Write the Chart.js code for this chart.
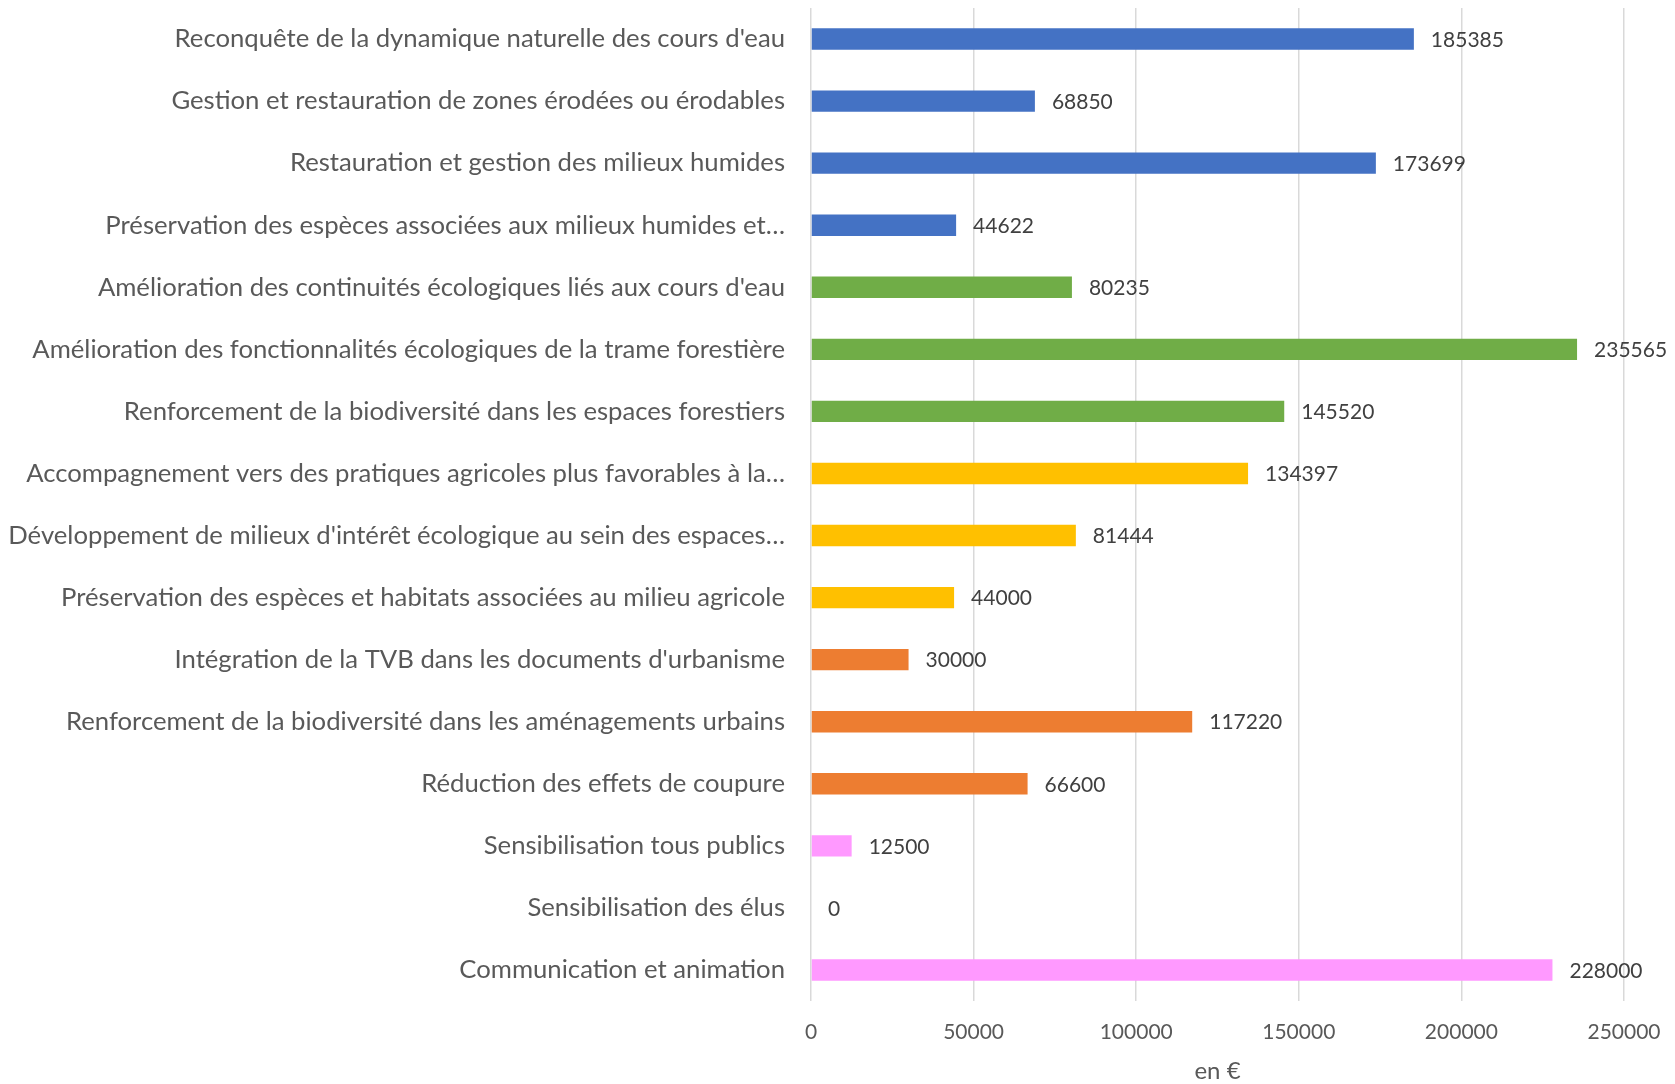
<!DOCTYPE html>
<html>
<head>
<meta charset="utf-8">
<script src="https://cdn.jsdelivr.net/npm/chart.js@4"></script>
<style>
    html, body { margin: 0; padding: 0; background: #fff; }
    #wrap { width: 1675px; height: 1084px; }
</style>
</head>
<body>
<div id="wrap"><canvas id="myChart" width="1675" height="1084"></canvas></div>
<script>
const categories = [
    "Reconquête de la dynamique naturelle des cours d'eau",
    "Gestion et restauration de zones érodées ou érodables",
    "Restauration et gestion des milieux humides",
    "Préservation des espèces associées aux milieux humides et…",
    "Amélioration des continuités écologiques liés aux cours d'eau",
    "Amélioration des fonctionnalités écologiques de la trame forestière",
    "Renforcement de la biodiversité dans les espaces forestiers",
    "Accompagnement vers des pratiques agricoles plus favorables à la…",
    "Développement de milieux d'intérêt écologique au sein des espaces…",
    "Préservation des espèces et habitats associées au milieu agricole",
    "Intégration de la TVB dans les documents d'urbanisme",
    "Renforcement de la biodiversité dans les aménagements urbains",
    "Réduction des effets de coupure",
    "Sensibilisation tous publics",
    "Sensibilisation des élus",
    "Communication et animation",
];
const values = [185385, 68850, 173699, 44622, 80235, 235565, 145520, 134397, 81444, 44000, 30000, 117220, 66600, 12500, 0, 228000];
// theme of each action (gives the bar colour)
const themes = ["eau", "eau", "eau", "eau", "foret", "foret", "foret", "agri", "agri", "agri", "urba", "urba", "urba", "com", "com", "com"];
const themeColors = { eau: "#4472C4", foret: "#70AD47", agri: "#FFC000", urba: "#ED7D31", com: "#FF99FF" };
const xTicks = [0, 50000, 100000, 150000, 200000, 250000];

const FONT = "Lato";

// valeurs écrites au bout des barres
const barValues = {
    id: "barValues",
    afterDatasetsDraw(chart) {
        const ctx = chart.ctx;
        const meta = chart.getDatasetMeta(0);
        ctx.save();
        ctx.font = "21px " + FONT;
        ctx.fillStyle = "#404040";
        ctx.textBaseline = "middle";
        ctx.textAlign = "left";
        meta.data.forEach((bar, i) => {
            ctx.fillText(String(values[i]), bar.x + 17, bar.y + 1);
        });
        ctx.restore();
    },
};

new Chart(document.getElementById("myChart"), {
    type: "bar",
    data: {
        labels: categories,
        datasets: [
            {
                data: values,
                backgroundColor: themes.map((t) => themeColors[t]),
                borderWidth: 0,
                barPercentage: 0.345,
                categoryPercentage: 1,
            },
        ],
    },
    options: {
        indexAxis: "y",
        responsive: false,
        animation: false,
        layout: { padding: { top: 8, right: 51, bottom: 0, left: 0 } },
        plugins: {
            legend: { display: false },
            tooltip: { enabled: false },
        },
        scales: {
            x: {
                min: 0,
                max: 250000,
                afterBuildTicks(scale) {
                    scale.ticks = xTicks.map((v) => ({ value: v }));
                },
                afterFit(scale) {
                    scale.height = 83;
                    scale.paddingLeft = 0;
                    scale.paddingRight = 0;
                },
                grid: { color: "#D9D9D9", lineWidth: 1.5, drawTicks: false },
                border: { display: false },
                ticks: {
                    padding: 19,
                    color: "#595959",
                    font: { family: FONT, size: 21 },
                    maxRotation: 0,
                    callback: (v) => String(v),
                },
                title: {
                    display: true,
                    text: "en €",
                    color: "#595959",
                    font: { family: FONT, size: 24 },
                    padding: { top: 0, bottom: -2 },
                },
            },
            y: {
                afterFit(scale) {
                    scale.width = 811;
                    scale.paddingTop = 0;
                    scale.paddingBottom = 0;
                },
                grid: { display: false, drawTicks: false },
                border: { display: false },
                ticks: {
                    padding: 26,
                    color: "#595959",
                    font: { family: FONT, size: 25.7 },
                    autoSkip: false,
                },
            },
        },
    },
    plugins: [barValues],
});
</script>
</body>
</html>
